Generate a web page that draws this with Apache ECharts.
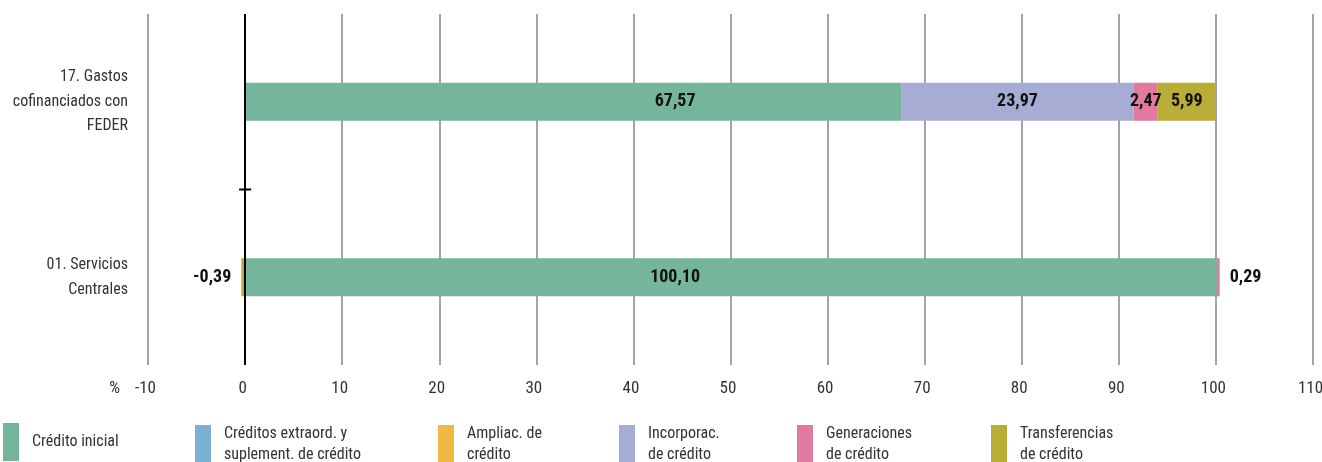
<!DOCTYPE html>
<html>
<head>
<meta charset="utf-8">
<script src="https://cdn.jsdelivr.net/npm/echarts@6/dist/echarts.min.js"></script>
<style>
  html, body { margin: 0; padding: 0; background: #fff; }
  #chart { width: 1322px; height: 462px; }
</style>
</head>
<body>
<div id="chart"></div>
<script>
// Categories, bottom to top
const categories = ['01. Servicios\nCentrales', '17. Gastos\ncofinanciados con\nFEDER'];

// Percentage of each credit type per programme
const creditoInicial   = [100.10, 67.57];
const creditosExtraord = [0, 0];
const ampliacCredito   = [0, 0];
const incorporac       = [0, 23.97];
const generaciones     = [0.29, 2.47];
const transferencias   = [-0.39, 5.99];

const seriesNames = [
  'Crédito inicial',
  'Créditos extraord. y\nsuplement. de crédito',
  'Ampliac. de\ncrédito',
  'Incorporac.\nde crédito',
  'Generaciones\nde crédito',
  'Transferencias\nde crédito'
];
const seriesValues = [creditoInicial, creditosExtraord, ampliacCredito, incorporac, generaciones, transferencias];
const colors = ['#75b59c', '#7bafd6', '#f0b845', '#a6acd3', '#e17a9e', '#b9ac37'];

// Axis ticks
const xMin = -10, xMax = 110, xStep = 10;

const FONT = '"Roboto Condensed", "DejaVu Sans Condensed", sans-serif';
const fmt = v => v.toFixed(2).replace('.', ',');

function labelPosition(si, v) {
  if (si === 0) return [430, '50%'];          // base-credit labels sit at a fixed offset from the bar start
  if (Math.abs(v) < 1) return v < 0 ? 'left' : 'right';
  return 'inside';
}

const series = seriesValues.map((vals, si) => ({
  name: seriesNames[si],
  type: 'bar',
  stack: 'total',
  barWidth: 38,
  itemStyle: { color: colors[si] },
  data: vals.map(v => ({
    value: v,
    label: {
      show: v !== 0,
      position: labelPosition(si, v),
      align: si === 0 ? 'center' : undefined,
      verticalAlign: si === 0 ? 'middle' : undefined,
      distance: 10,
      formatter: p => fmt(p.value),
      color: '#111',
      fontFamily: FONT,
      fontWeight: 'bold',
      fontSize: 18
    }
  }))
}));

// zero reference line
series[0].markLine = {
  silent: true,
  symbol: 'none',
  label: { show: false },
  lineStyle: { color: '#000', width: 2, type: 'solid' },
  data: [{ xAxis: 0 }]
};

// one legend block per series, each placed on its own
const legendLefts = [3, 195, 438, 619, 797, 991];
const legends = seriesNames.map((n, i) => ({
  data: [n],
  left: legendLefts[i],
  top: 423,
  padding: 0,
  orient: 'horizontal',
  itemWidth: 16,
  itemHeight: 38,
  itemGap: 0,
  icon: 'rect',
  selectedMode: false,
  textStyle: {
    fontFamily: FONT,
    fontSize: 16,
    color: '#333',
    lineHeight: 21,
    padding: [0, 0, 0, 8]
  }
}));

const chart = echarts.init(document.getElementById('chart'), null, { renderer: 'canvas' });
chart.setOption({
  animation: false,
  backgroundColor: '#fff',
  grid: { left: 148, right: 9, top: 14, bottom: 97, containLabel: false, outerBoundsMode: 'none' },
  legend: legends,
  xAxis: {
    type: 'value',
    min: xMin,
    max: xMax,
    interval: xStep,
    axisLine: { show: false },
    axisTick: { show: false },
    splitLine: { show: true, lineStyle: { color: '#a3a3a3', width: 2 } },
    axisLabel: {
      fontFamily: FONT, fontSize: 17, color: '#333', margin: 15,
      padding: [0, 5, 0, 0]
    }
  },
  yAxis: {
    type: 'category',
    data: categories,
    axisLine: { show: false, onZero: false },
    axisTick: { show: false },
    axisLabel: {
      fontFamily: FONT, fontSize: 16, color: '#333', lineHeight: 24.5,
      margin: 20, align: 'right'
    }
  },
  series: series
});

// "%" unit label and the category divider tick on the zero line
const p0 = chart.convertToPixel({ gridIndex: 0 }, [0, 0]);
const p1 = chart.convertToPixel({ gridIndex: 0 }, [0, 1]);
const midY = (p0[1] + p1[1]) / 2;
const xm10 = chart.convertToPixel({ gridIndex: 0 }, [xMin, 0])[0];
chart.setOption({
  graphic: [
    {
      type: 'line',
      shape: { x1: p0[0] - 6, y1: midY, x2: p0[0] + 6, y2: midY },
      style: { stroke: '#000', lineWidth: 2 }
    },
    {
      type: 'text',
      x: xm10 - 28,
      y: 389,
      style: { text: '%', font: '17px ' + FONT, fill: '#333', textAlign: 'right', textVerticalAlign: 'middle' }
    }
  ]
});
</script>
</body>
</html>
